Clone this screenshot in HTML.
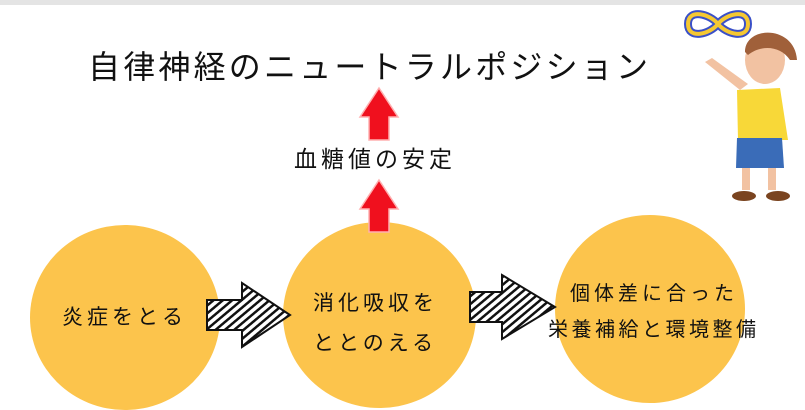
<!DOCTYPE html>
<html><head><meta charset="utf-8"><style>
body{margin:0;width:805px;height:410px;overflow:hidden;background:#fff;position:relative;font-family:"Liberation Sans","Noto Sans CJK JP",sans-serif;color:#111}
.t{position:absolute;white-space:nowrap}
.c{position:absolute;background:#fcc44c;border-radius:50%}
</style></head><body>
<div style="position:absolute;left:0;top:0;width:805px;height:5px;background:#e4e4e4"></div>
<div class="t" style="left:88px;top:42px;font-size:32px;letter-spacing:3.2px">自律神経のニュートラルポジション</div>
<div class="t" style="left:294px;top:140px;font-size:23px;letter-spacing:4px">血糖値の安定</div>
<div class="c" style="left:30px;top:225px;width:190px;height:185px"></div>
<div class="c" style="left:283px;top:222px;width:193px;height:186px"></div>
<div class="c" style="left:555px;top:215px;width:190px;height:188px"></div>
<svg width="805" height="410" style="position:absolute;left:0;top:0">
<defs><pattern id="h" width="6" height="6" patternUnits="userSpaceOnUse" patternTransform="rotate(50)"><rect width="6" height="6" fill="#fff"/><rect width="2.5" height="6" fill="#111"/></pattern></defs>
<polygon points="207,300 242,300 242,283 290,315 242,347 242,330 207,330" fill="url(#h)" stroke="#111" stroke-width="2"/>
<polygon points="470,292 502,292 502,275 555,307 502,339 502,322 470,322" fill="url(#h)" stroke="#111" stroke-width="2"/>
<polygon points="379,88 398,117 389,117 389,140 369,140 369,117 360,117" fill="#f0101e" stroke="#ffb0b0" stroke-width="1.5"/>
<polygon points="379,180 398,209 389,209 389,232 369,232 369,209 360,209" fill="#f0101e" stroke="#ffb0b0" stroke-width="1.5"/>
<g transform="translate(688,12)"><path d="M0,12 C0,-4 22,2 30,12 C38,22 60,28 60,12 C60,-4 38,2 30,12 C22,22 0,28 0,12Z" fill="none" stroke="#3a50c8" stroke-width="8"/><path d="M0,12 C0,-4 22,2 30,12 C38,22 60,28 60,12 C60,-4 38,2 30,12 C22,22 0,28 0,12Z" fill="none" stroke="#f5c832" stroke-width="4"/></g>
<ellipse cx="765" cy="60" rx="20" ry="24" fill="#f2c2a2"/><path d="M745,52 C745,25 795,25 797,60 L790,60 C780,45 760,45 748,55Z" fill="#a0603a"/>
<path d="M705,62 L740,90 L748,84 L712,58Z" fill="#f2c2a2"/>
<path d="M737,90 L780,88 L788,140 L738,140Z" fill="#f8d838"/>
<path d="M737,138 L782,138 L784,168 L736,168Z" fill="#3a6cb8"/>
<rect x="742" y="168" width="8" height="22" fill="#f2c2a2"/><rect x="768" y="168" width="8" height="22" fill="#f2c2a2"/>
<ellipse cx="744" cy="196" rx="12" ry="5" fill="#7a4420"/><ellipse cx="778" cy="196" rx="12" ry="5" fill="#7a4420"/>
</svg>
<div class="t" style="left:62px;top:301px;font-size:21px;letter-spacing:4px">炎症をとる</div>
<div class="t" style="left:313px;top:284px;font-size:21px;letter-spacing:4px;line-height:40px">消化吸収を<br>ととのえる</div>
<div class="t" style="left:570px;top:277px;font-size:20px;letter-spacing:4px">個体差に合った</div>
<div class="t" style="left:548px;top:313px;font-size:20px;letter-spacing:3.5px">栄養補給と環境整備</div>
</body></html>
